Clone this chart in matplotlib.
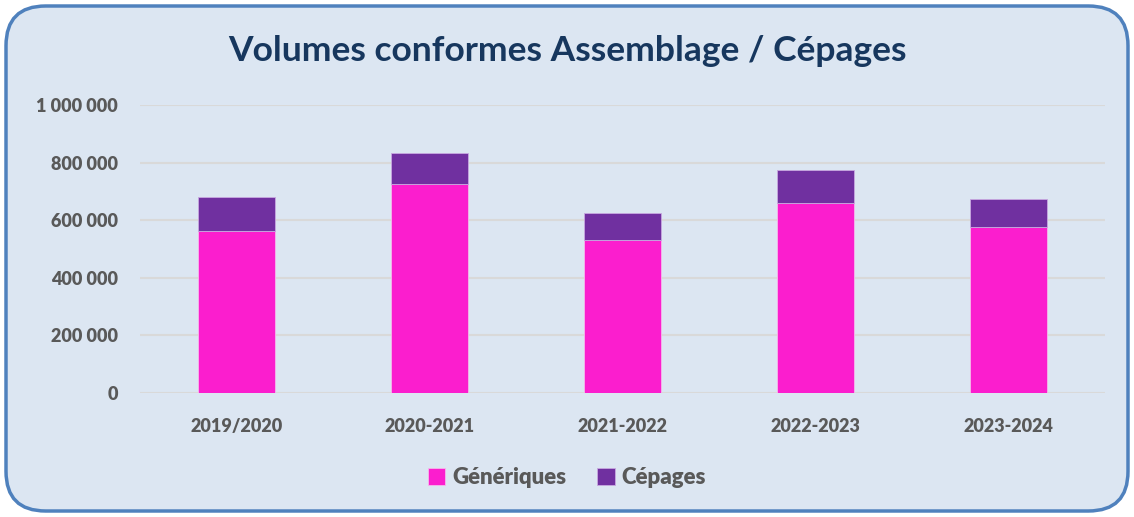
import matplotlib
matplotlib.use("Agg")
import matplotlib.pyplot as plt
from matplotlib.patches import FancyBboxPatch
from matplotlib.ticker import FuncFormatter

categories = ["2019/2020", "2020-2021", "2021-2022", "2022-2023", "2023-2024"]
generiques = [562000, 726000, 532000, 660000, 576000]
cepages = [118000, 109000, 92000, 113000, 96000]
yticks = [0, 200000, 400000, 600000, 800000, 1000000]

plt.rcParams['font.family'] = ['Lato', 'DejaVu Sans']

W, H = 1134, 517
fig = plt.figure(figsize=(W / 100, H / 100), dpi=100)
fig.patch.set_facecolor('white')

box = FancyBboxPatch((6 / W, 6 / H), (W - 12) / W, (H - 12) / H,
                     boxstyle="round,pad=0,rounding_size=0.035",
                     transform=fig.transFigure, facecolor='#DCE6F2',
                     edgecolor='#4F81BD', linewidth=2.5, mutation_aspect=W / H,
                     zorder=-10)
fig.patches.append(box)

ax = fig.add_axes([140 / W, 1 - 393 / H, 965 / W, 288 / H])
ax.set_facecolor('none')
ax.set_zorder(5)

x = range(len(categories))
ax.bar(x, generiques, width=0.4, color='#FB1ECE', edgecolor='#F5B8EC', linewidth=0.6, label='Génériques', zorder=3)
ax.bar(x, cepages, width=0.4, bottom=generiques, color='#7030A0', edgecolor='#C8A8E0', linewidth=0.6, label='Cépages', zorder=3)

ax.set_xlim(-0.5, len(categories) - 0.5)
ax.set_ylim(0, 1000000)
ax.set_yticks(yticks)
ax.yaxis.set_major_formatter(FuncFormatter(lambda v, p: f"{int(v):,}".replace(",", " ")))
ax.grid(axis='y', color='#D9D9D9', linewidth=1.5, zorder=0)
ax.set_axisbelow(True)
ax.set_xticks(list(x))
ax.set_xticklabels(categories)
for s in ax.spines.values():
    s.set_visible(False)
ax.tick_params(axis='both', length=0, labelsize=13, labelcolor='#595959')
ax.tick_params(axis='y', pad=16)
ax.tick_params(axis='x', pad=18)
for lab in ax.get_xticklabels() + ax.get_yticklabels():
    lab.set_fontweight('heavy')

fig.text(0.5, 1 - 51 / H, "Volumes conformes Assemblage / Cépages", ha='center', va='center',
         fontsize=25.5, fontweight='bold', color='#17375E')

leg = fig.legend(loc='center', bbox_to_anchor=(0.5, 1 - 478 / H), ncol=2, frameon=False,
                 fontsize=16, handlelength=0.8, handleheight=0.8, handletextpad=0.3,
                 columnspacing=1.4)
for t in leg.get_texts():
    t.set_color('#595959')
    t.set_fontweight('heavy')

fig.savefig('out.png', dpi=100, facecolor='white')
